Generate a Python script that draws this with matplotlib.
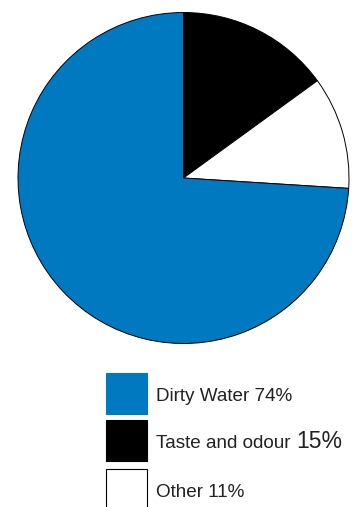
import matplotlib.pyplot as plt
from matplotlib.patches import Rectangle

# data
categories = ["Dirty Water", "Taste and odour", "Other"]
shares = [74, 15, 11]
colors = ["#0079c1", "#000000", "#ffffff"]

# pie order in the picture: clockwise from 12 o'clock -> black, white, blue
pie_order = [1, 2, 0]

W, H = 352, 507
fig = plt.figure(figsize=(W / 100, H / 100), dpi=100)
ax = fig.add_axes([0, 0, 1, 1])

ax.pie([shares[i] for i in pie_order],
       colors=[colors[i] for i in pie_order],
       startangle=90, counterclock=False,
       center=(183.5, H - 178), radius=165.5,
       wedgeprops=dict(edgecolor="black", linewidth=0.7))

ax.set_xlim(0, W)
ax.set_ylim(0, H)
ax.set_axis_off()

# legend (drawn by hand to allow the mixed font size)
row_top = [373, 420, 469]
big_pct = [False, True, False]
txt = dict(family="Liberation Sans", color="#222222")
for i, name in enumerate(categories):
    top = row_top[i]
    ax.add_patch(Rectangle((106, H - top - 41), 41, 41,
                           facecolor=colors[i], edgecolor="black" if i > 0 else colors[i],
                           linewidth=0.8, clip_on=False))
    base = H - top - 28
    pct = f"{shares[i]}%"
    if big_pct[i]:
        t = ax.text(156, base, name, fontsize=13.6, va="baseline", **txt)
        fig.canvas.draw()
        bb = t.get_window_extent().transformed(ax.transData.inverted())
        ax.text(bb.x1 + 6, base, pct, fontsize=16.5, va="baseline", **txt)
    else:
        ax.text(156, base, f"{name} {pct}", fontsize=13.6, va="baseline", **txt)

fig.savefig("out.png", dpi=100)
